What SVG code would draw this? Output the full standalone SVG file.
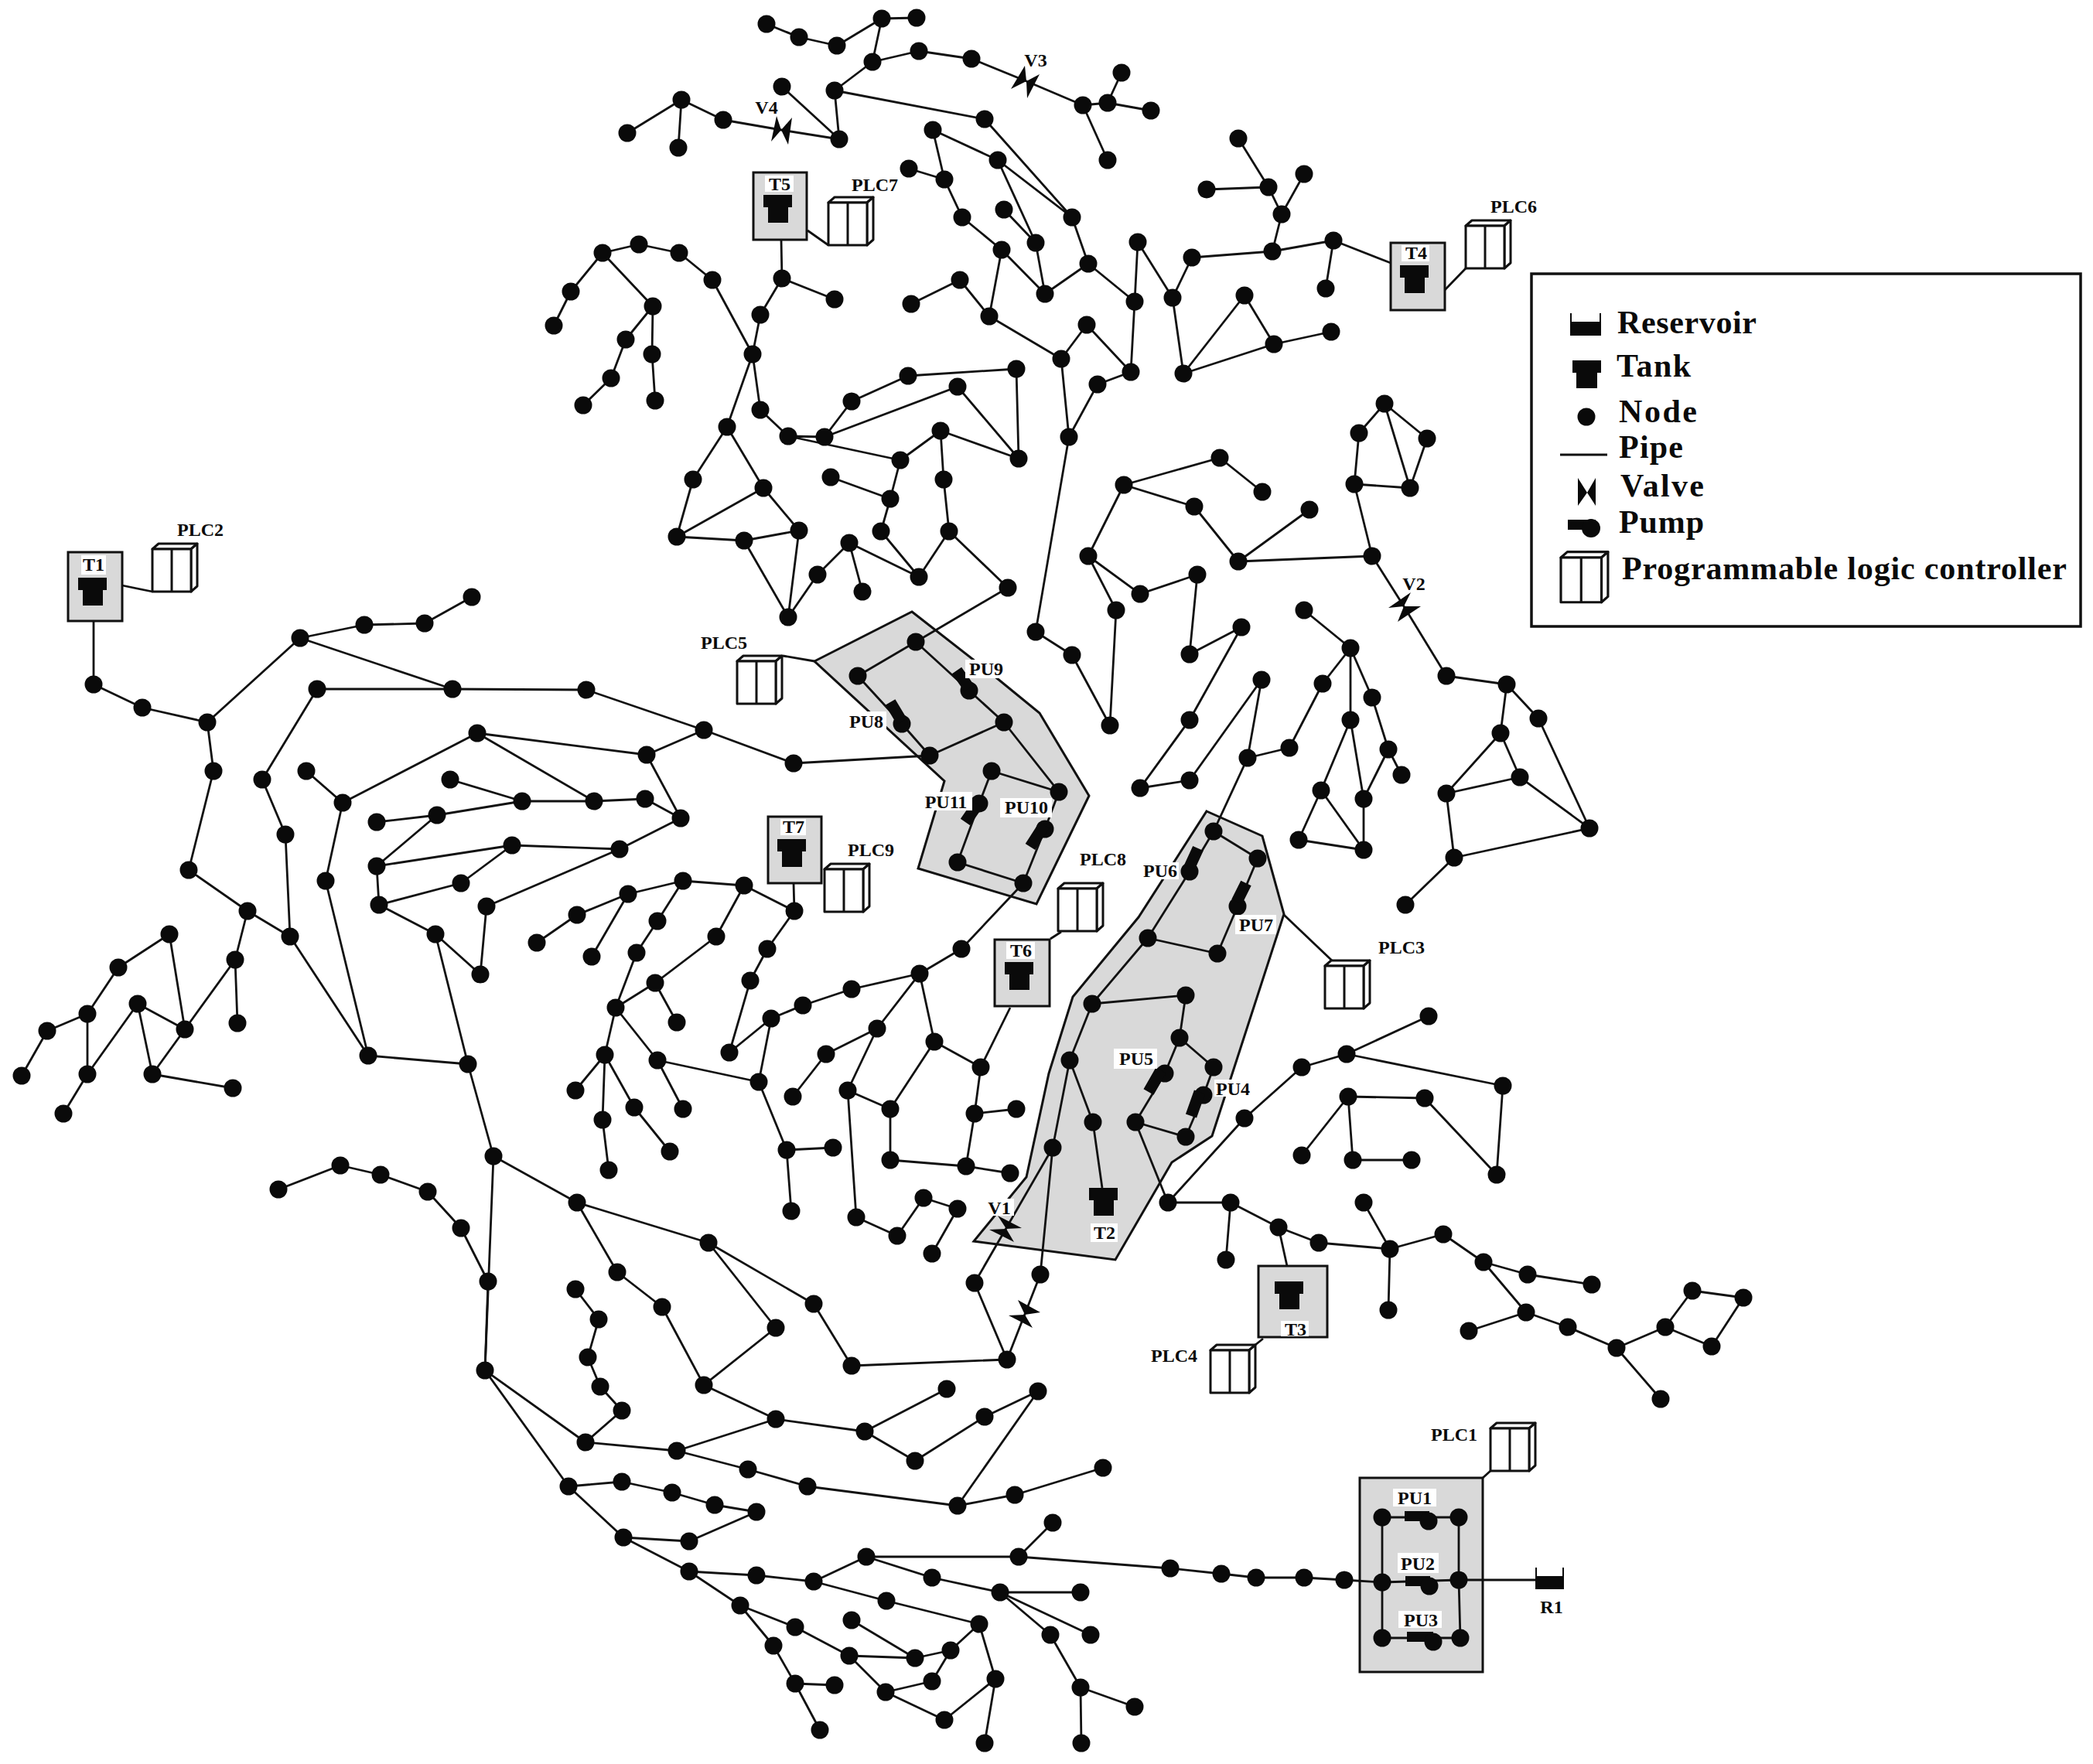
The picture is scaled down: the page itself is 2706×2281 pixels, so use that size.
<svg xmlns="http://www.w3.org/2000/svg" width="2706" height="2281" viewBox="0 0 2706 2281">
<style>
text{font-family:"Liberation Serif","Times New Roman",serif;font-weight:bold;fill:#0a0a0a;font-size:24px;text-anchor:middle}
.lg{font-size:42px;text-anchor:start}
.z{fill:#d9d9d9;stroke:#111;stroke-width:3;stroke-linejoin:miter}
.p{fill:none;stroke:#111;stroke-width:2.8;stroke-linejoin:round}
.nodes circle,.k{fill:#0a0a0a}
.w{fill:#fff}
.pl{fill:#fff;stroke:#111;stroke-width:3;stroke-linejoin:round}
.pump{fill:none;stroke:#0a0a0a;stroke-width:15}
</style>
<defs>
<g id="plc"><path class="pl" d="M0 0L8-7H58L50 0Z"/><path class="pl" d="M50 0L58-7V48L50 55Z"/><rect class="pl" width="50" height="55"/><path class="pl" d="M25 0V55"/></g>
<g id="tank"><rect class="k" x="-19" y="0" width="37" height="16"/><rect class="k" x="-13" y="16" width="26" height="20"/></g>
</defs>
<g id="zones">
<path id="zone-a" class="z" d="M1179 791L1284 873L1344 922L1408 1029L1340 1169L1187 1123L1221 1010L1053 855Z"/>
<path id="zone-b" class="z" d="M1560 1049L1632 1081L1660 1182L1567 1469L1515 1503L1442 1629L1259 1605L1327 1522L1356 1388L1387 1289L1472 1186Z"/>
<rect id="zone-c" class="z" x="1758" y="1911" width="159" height="251"/>
</g>
<g id="connectors">
<path class="p" d="M991 31L1033 48L1082 59L1140 24L1185 23M1140 24L1128 80M1079 117L1128 80L1188 66L1256 76L1327 105L1400 136L1432 133L1488 143M1432 133L1450 94M1400 136L1432 207M1079 117L1085 180L1011 112M1085 180L1010 168L935 155L881 129L811 172M881 129L877 191M1079 117L1273 154L1386 281M1206 168L1290 207L1386 281M1290 207L1339 314M1298 271L1339 314L1351 380M1206 168L1221 232L1244 281L1295 323L1351 380M1175 218L1221 232M1386 281L1407 341L1351 380M1407 341L1467 390M1471 313L1467 390L1462 481M1471 313L1516 385L1541 333L1645 325L1724 311L1798 340M1724 311L1714 373M1645 325L1657 277L1640 242L1560 245M1657 277L1686 225M1640 242L1601 179M1516 385L1530 483L1609 382L1647 445L1721 429M1530 483L1647 445M1295 323L1279 409M1178 393L1241 362L1279 409L1372 464L1405 420L1462 481L1419 497L1382 565M1372 464L1382 565L1339 817L1386 847L1435 938L1443 789L1407 719L1453 627L1577 592L1632 636M1453 627L1544 655L1601 726L1693 659M1601 726L1774 719M1407 719L1474 768L1548 743L1538 846L1605 811L1538 931L1474 1019L1538 1009L1631 879L1613 980L1667 967L1710 884L1746 838L1686 789M1746 838L1774 902L1795 969L1812 1002M1746 838L1746 931L1708 1022L1763 1099L1763 1033L1746 931M1795 969L1763 1033M1708 1022L1679 1086L1763 1099M1613 980L1569 1075"/>
<path class="p" d="M1790 522L1757 560L1751 626L1823 631L1845 567L1790 522L1823 631M1751 626L1774 719L1815 784L1870 874L1948 885L1989 929L2055 1071M1948 885L1940 948L1965 1005L2055 1071M1940 948L1870 1026L1965 1005M1870 1026L1880 1109L2055 1071M1880 1109L1817 1170"/>
<path class="p" d="M779 327L826 316L878 327L921 362L973 458M779 327L738 377L716 421M779 327L844 396L809 439L790 489L754 524M844 396L843 458L847 518M1010 310L1011 360L1079 387M1011 360L983 407L973 458L983 530L1019 564L1066 565L1101 519L1174 486L1314 477L1317 593M1019 564L1164 595L1216 557L1317 593M1066 565L1238 500L1317 593M1216 557L1220 620L1227 687L1188 746L1139 687L1151 645L1164 595M1151 645L1074 617M1098 702L1188 746M1098 702L1057 743L1019 798M1098 702L1115 765M973 458L940 552L896 620L875 694L987 631L940 552M987 631L1033 686L1019 798M875 694L962 699L1033 686M962 699L1019 798M1227 687L1303 760L1184 830"/>
<path class="p" d="M1184 830L1109 874L1166 936L1202 977L1298 934L1253 893L1184 830M1298 934L1369 1024L1282 997L1266 1039L1238 1115L1323 1142L1351 1072L1369 1024M1202 977L1026 987L910 944M1323 1142L1243 1227M1012 848L1053 855"/>
<path class="p" d="M121 803L121 885L184 915L268 934L388 825L471 808L549 806L610 772M268 934L276 997L244 1125L320 1178L375 1211L369 1079L339 1008L410 891L585 891L758 892L910 944M320 1178L304 1241L239 1331L219 1208L153 1251L113 1311L61 1333L28 1391M304 1241L307 1323M113 1311L113 1389L82 1440M113 1389L178 1298L239 1331L197 1389L178 1298M197 1389L301 1407M388 825L585 891M375 1211L476 1365L421 1139L443 1038L617 948L836 976L910 944M396 997L443 1038M476 1365L605 1376L563 1208L621 1260L629 1172L801 1098M563 1208L490 1170L596 1142L662 1093L801 1098L880 1058L836 976M617 948L768 1036L675 1036L582 1008M768 1036L834 1033L880 1058M675 1036L565 1054L487 1063M565 1054L487 1120L662 1093M487 1120L490 1170M605 1376L638 1495L627 1772"/>
<path class="p" d="M694 1219L746 1183L812 1156L883 1139L962 1145L1027 1178L1026 1142M812 1156L765 1237M883 1139L850 1191L823 1232L796 1303L847 1271L926 1211L962 1145M847 1271L875 1322M1027 1178L992 1227L970 1268L943 1361L997 1317L1038 1300L1101 1279L1189 1259L1243 1227M796 1303L782 1364M796 1303L850 1371L981 1399L997 1317M981 1399L1017 1487L1077 1484M1017 1487L1023 1566M782 1364L744 1410M782 1364L779 1448L787 1513M782 1364L820 1432L866 1489M850 1371L883 1434M1189 1259L1134 1330L1068 1363L1025 1418M1134 1330L1096 1410L1151 1434L1208 1347L1189 1259M1151 1434L1151 1500L1249 1508L1260 1440L1268 1380L1208 1347M1260 1440L1314 1434M1249 1508L1306 1517M1268 1380L1306 1303M1096 1410L1107 1574L1160 1598L1194 1549L1238 1563L1205 1621"/>
<path class="p" d="M360 1538L440 1507L492 1519L553 1541L596 1588L631 1657L627 1772L757 1865L875 1876L1003 1835L910 1791L856 1690L798 1645L746 1555L916 1607L1052 1686L1101 1766L1302 1758L1260 1659L1361 1484M638 1495L746 1555M916 1607L1003 1717L910 1791M1003 1835L1118 1851L1224 1796M1118 1851L1183 1889L1273 1832L1342 1799L1238 1947M875 1876L967 1900L1044 1922L1238 1947L1312 1933L1426 1898M757 1865L804 1824L776 1793L760 1755L774 1706L744 1667M627 1772L735 1922L804 1916L869 1930L924 1946L978 1955L891 1993L806 1988L735 1922M806 1988L891 2032L978 2037L1052 2045L1120 2013L1317 2013L1361 1969M1120 2013L1205 2040L1293 2059L1397 2059M1052 2045L1146 2070L1266 2100L1229 2134L1183 2144L1098 2141L1028 2104L957 2076L891 2032M957 2076L1000 2128L1028 2177L1079 2179M1028 2177L1060 2237M1098 2141L1145 2188L1205 2174L1229 2134M1101 2095L1183 2144M1266 2100L1287 2171L1221 2224L1145 2188M1287 2171L1273 2254M1293 2059L1410 2114M1293 2059L1358 2114L1397 2182L1467 2207M1397 2182L1398 2254M1302 1758L1345 1648L1361 1484"/>
<path class="p" d="M1317 2013L1513 2028L1579 2035L1624 2040L1686 2040L1738 2043L1787 2046L1886 2043L2000 2043M1787 1962L1787 2118L1888 2118L1886 2043L1886 1962L1787 1962"/>
<path class="p" d="M1569 1075L1538 1127L1484 1213L1412 1298L1383 1371L1361 1484M1569 1075L1626 1110L1600 1172L1574 1233L1484 1213M1412 1298L1533 1287L1525 1342L1569 1380L1556 1416L1533 1470L1468 1451L1506 1388L1525 1342M1383 1371L1413 1451L1425 1536M1468 1451L1510 1555L1591 1555L1653 1587L1705 1607L1797 1615L1866 1596L1918 1632L1975 1648L2058 1661M1591 1555L1585 1629M1653 1587L1664 1637M1763 1555L1797 1615L1795 1694M1918 1632L1973 1697L2027 1716L2090 1743L2153 1716L2188 1669L2254 1678L2213 1741L2153 1716M1973 1697L1899 1721M2090 1743L2147 1809M1510 1555L1609 1446L1683 1380L1741 1363L1847 1314M1741 1363L1943 1404L1935 1519L1842 1420L1743 1418L1683 1494M1743 1418L1749 1500L1825 1500"/>
<path class="p" d="M158 757L197 765M1044 298L1071 317M1867 376L1895 347M1358 1214L1372 1205M1660 1183L1722 1242M1633 1731L1623 1739M1917 1911L1927 1902"/>
</g>
<g id="nodes" class="nodes">
<g id="a1"><circle cx="991" cy="31" r="11.5"/></g><g id="a2"><circle cx="1033" cy="48" r="11.5"/></g><g id="a3"><circle cx="1082" cy="59" r="11.5"/></g><g id="a4"><circle cx="1140" cy="24" r="11.5"/></g><g id="a5"><circle cx="1185" cy="23" r="11.5"/></g><g id="a6"><circle cx="1128" cy="80" r="11.5"/></g><g id="a7"><circle cx="1188" cy="66" r="11.5"/></g><g id="a8"><circle cx="1256" cy="76" r="11.5"/></g><g id="a9"><circle cx="1400" cy="136" r="11.5"/></g><g id="a10"><circle cx="1432" cy="133" r="11.5"/></g><g id="a11"><circle cx="1450" cy="94" r="11.5"/></g><g id="a12"><circle cx="1488" cy="143" r="11.5"/></g><g id="a13"><circle cx="1432" cy="207" r="11.5"/></g><g id="a14"><circle cx="1079" cy="117" r="11.5"/></g><g id="a15"><circle cx="1085" cy="180" r="11.5"/></g><g id="a16"><circle cx="1011" cy="112" r="11.5"/></g><g id="a17"><circle cx="935" cy="155" r="11.5"/></g><g id="a18"><circle cx="881" cy="129" r="11.5"/></g><g id="a19"><circle cx="811" cy="172" r="11.5"/></g><g id="a20"><circle cx="877" cy="191" r="11.5"/></g>
<g id="b1"><circle cx="1273" cy="154" r="11.5"/></g><g id="b2"><circle cx="1206" cy="168" r="11.5"/></g><g id="b3"><circle cx="1290" cy="207" r="11.5"/></g><g id="b4"><circle cx="1175" cy="218" r="11.5"/></g><g id="b5"><circle cx="1221" cy="232" r="11.5"/></g><g id="b6"><circle cx="1244" cy="281" r="11.5"/></g><g id="b7"><circle cx="1298" cy="271" r="11.5"/></g><g id="b8"><circle cx="1386" cy="281" r="11.5"/></g><g id="b9"><circle cx="1339" cy="314" r="11.5"/></g><g id="b10"><circle cx="1295" cy="323" r="11.5"/></g><g id="b11"><circle cx="1407" cy="341" r="11.5"/></g><g id="b12"><circle cx="1471" cy="313" r="11.5"/></g><g id="b13"><circle cx="1541" cy="333" r="11.5"/></g><g id="b14"><circle cx="1645" cy="325" r="11.5"/></g><g id="b15"><circle cx="1724" cy="311" r="11.5"/></g><g id="b16"><circle cx="1714" cy="373" r="11.5"/></g><g id="b17"><circle cx="1657" cy="277" r="11.5"/></g><g id="b18"><circle cx="1640" cy="242" r="11.5"/></g><g id="b19"><circle cx="1560" cy="245" r="11.5"/></g><g id="b20"><circle cx="1686" cy="225" r="11.5"/></g><g id="b21"><circle cx="1601" cy="179" r="11.5"/></g><g id="b22"><circle cx="1241" cy="362" r="11.5"/></g><g id="b23"><circle cx="1178" cy="393" r="11.5"/></g><g id="b24"><circle cx="1279" cy="409" r="11.5"/></g><g id="b25"><circle cx="1351" cy="380" r="11.5"/></g><g id="b26"><circle cx="1467" cy="390" r="11.5"/></g><g id="b27"><circle cx="1516" cy="385" r="11.5"/></g><g id="b28"><circle cx="1609" cy="382" r="11.5"/></g><g id="b29"><circle cx="1647" cy="445" r="11.5"/></g><g id="b30"><circle cx="1721" cy="429" r="11.5"/></g><g id="b31"><circle cx="1530" cy="483" r="11.5"/></g><g id="b32"><circle cx="1405" cy="420" r="11.5"/></g><g id="b33"><circle cx="1372" cy="464" r="11.5"/></g><g id="b34"><circle cx="1462" cy="481" r="11.5"/></g><g id="b35"><circle cx="1419" cy="497" r="11.5"/></g><g id="b36"><circle cx="1382" cy="565" r="11.5"/></g>
<g id="c1"><circle cx="779" cy="327" r="11.5"/></g><g id="c2"><circle cx="826" cy="316" r="11.5"/></g><g id="c3"><circle cx="878" cy="327" r="11.5"/></g><g id="c4"><circle cx="921" cy="362" r="11.5"/></g><g id="c5"><circle cx="738" cy="377" r="11.5"/></g><g id="c6"><circle cx="716" cy="421" r="11.5"/></g><g id="c7"><circle cx="844" cy="396" r="11.5"/></g><g id="c8"><circle cx="809" cy="439" r="11.5"/></g><g id="c9"><circle cx="843" cy="458" r="11.5"/></g><g id="c10"><circle cx="790" cy="489" r="11.5"/></g><g id="c11"><circle cx="754" cy="524" r="11.5"/></g><g id="c12"><circle cx="847" cy="518" r="11.5"/></g><g id="c13"><circle cx="1011" cy="360" r="11.5"/></g><g id="c14"><circle cx="1079" cy="387" r="11.5"/></g><g id="c15"><circle cx="983" cy="407" r="11.5"/></g><g id="c16"><circle cx="973" cy="458" r="11.5"/></g><g id="c17"><circle cx="983" cy="530" r="11.5"/></g><g id="c18"><circle cx="940" cy="552" r="11.5"/></g><g id="c19"><circle cx="1019" cy="564" r="11.5"/></g><g id="c20"><circle cx="1066" cy="565" r="11.5"/></g><g id="c21"><circle cx="1101" cy="519" r="11.5"/></g><g id="c22"><circle cx="1174" cy="486" r="11.5"/></g><g id="c23"><circle cx="1314" cy="477" r="11.5"/></g><g id="c24"><circle cx="1238" cy="500" r="11.5"/></g><g id="c25"><circle cx="1317" cy="593" r="11.5"/></g><g id="c26"><circle cx="1216" cy="557" r="11.5"/></g><g id="c27"><circle cx="1164" cy="595" r="11.5"/></g><g id="c28"><circle cx="1220" cy="620" r="11.5"/></g><g id="c29"><circle cx="1227" cy="687" r="11.5"/></g><g id="c30"><circle cx="1074" cy="617" r="11.5"/></g><g id="c31"><circle cx="1151" cy="645" r="11.5"/></g><g id="c32"><circle cx="1139" cy="687" r="11.5"/></g><g id="c33"><circle cx="896" cy="620" r="11.5"/></g><g id="c34"><circle cx="987" cy="631" r="11.5"/></g><g id="c35"><circle cx="875" cy="694" r="11.5"/></g><g id="c36"><circle cx="962" cy="699" r="11.5"/></g><g id="c37"><circle cx="1033" cy="686" r="11.5"/></g><g id="c38"><circle cx="1057" cy="743" r="11.5"/></g><g id="c39"><circle cx="1098" cy="702" r="11.5"/></g><g id="c40"><circle cx="1188" cy="746" r="11.5"/></g><g id="c41"><circle cx="1115" cy="765" r="11.5"/></g><g id="c42"><circle cx="1303" cy="760" r="11.5"/></g><g id="c43"><circle cx="1019" cy="798" r="11.5"/></g>
<g id="d1"><circle cx="1339" cy="817" r="11.5"/></g><g id="d2"><circle cx="1386" cy="847" r="11.5"/></g><g id="d3"><circle cx="1435" cy="938" r="11.5"/></g><g id="d4"><circle cx="1443" cy="789" r="11.5"/></g><g id="d5"><circle cx="1407" cy="719" r="11.5"/></g><g id="d6"><circle cx="1453" cy="627" r="11.5"/></g><g id="d7"><circle cx="1577" cy="592" r="11.5"/></g><g id="d8"><circle cx="1632" cy="636" r="11.5"/></g><g id="d9"><circle cx="1544" cy="655" r="11.5"/></g><g id="d10"><circle cx="1601" cy="726" r="11.5"/></g><g id="d11"><circle cx="1693" cy="659" r="11.5"/></g><g id="d12"><circle cx="1774" cy="719" r="11.5"/></g><g id="d13"><circle cx="1474" cy="768" r="11.5"/></g><g id="d14"><circle cx="1548" cy="743" r="11.5"/></g><g id="d15"><circle cx="1538" cy="846" r="11.5"/></g><g id="d16"><circle cx="1605" cy="811" r="11.5"/></g><g id="d17"><circle cx="1538" cy="931" r="11.5"/></g><g id="d18"><circle cx="1474" cy="1019" r="11.5"/></g><g id="d19"><circle cx="1538" cy="1009" r="11.5"/></g><g id="d20"><circle cx="1631" cy="879" r="11.5"/></g><g id="d21"><circle cx="1613" cy="980" r="11.5"/></g><g id="d22"><circle cx="1667" cy="967" r="11.5"/></g><g id="d23"><circle cx="1710" cy="884" r="11.5"/></g><g id="d24"><circle cx="1746" cy="838" r="11.5"/></g><g id="d25"><circle cx="1686" cy="789" r="11.5"/></g><g id="d26"><circle cx="1774" cy="902" r="11.5"/></g><g id="d27"><circle cx="1746" cy="931" r="11.5"/></g><g id="d28"><circle cx="1795" cy="969" r="11.5"/></g><g id="d29"><circle cx="1812" cy="1002" r="11.5"/></g><g id="d30"><circle cx="1708" cy="1022" r="11.5"/></g><g id="d31"><circle cx="1763" cy="1033" r="11.5"/></g><g id="d32"><circle cx="1763" cy="1099" r="11.5"/></g><g id="d33"><circle cx="1679" cy="1086" r="11.5"/></g>
<g id="e1"><circle cx="1790" cy="522" r="11.5"/></g><g id="e2"><circle cx="1757" cy="560" r="11.5"/></g><g id="e3"><circle cx="1845" cy="567" r="11.5"/></g><g id="e4"><circle cx="1751" cy="626" r="11.5"/></g><g id="e5"><circle cx="1823" cy="631" r="11.5"/></g><g id="e6"><circle cx="1870" cy="874" r="11.5"/></g><g id="e7"><circle cx="1948" cy="885" r="11.5"/></g><g id="e8"><circle cx="1989" cy="929" r="11.5"/></g><g id="e9"><circle cx="1940" cy="948" r="11.5"/></g><g id="e10"><circle cx="1965" cy="1005" r="11.5"/></g><g id="e11"><circle cx="1870" cy="1026" r="11.5"/></g><g id="e12"><circle cx="2055" cy="1071" r="11.5"/></g><g id="e13"><circle cx="1880" cy="1109" r="11.5"/></g><g id="e14"><circle cx="1817" cy="1170" r="11.5"/></g>
<g id="g1"><circle cx="1184" cy="830" r="11.5"/></g><g id="g2"><circle cx="1109" cy="874" r="11.5"/></g><g id="g3"><circle cx="1253" cy="893" r="11.5"/></g><g id="g4"><circle cx="1166" cy="936" r="11.5"/></g><g id="g5"><circle cx="1298" cy="934" r="11.5"/></g><g id="g6"><circle cx="1202" cy="977" r="11.5"/></g><g id="g7"><circle cx="1282" cy="997" r="11.5"/></g><g id="g8"><circle cx="1369" cy="1024" r="11.5"/></g><g id="g9"><circle cx="1266" cy="1039" r="11.5"/></g><g id="g10"><circle cx="1351" cy="1072" r="11.5"/></g><g id="g11"><circle cx="1238" cy="1115" r="11.5"/></g><g id="g12"><circle cx="1323" cy="1142" r="11.5"/></g><g id="g13"><circle cx="1026" cy="987" r="11.5"/></g><g id="g14"><circle cx="910" cy="944" r="11.5"/></g>
<g id="k1"><circle cx="121" cy="885" r="11.5"/></g><g id="k2"><circle cx="184" cy="915" r="11.5"/></g><g id="k3"><circle cx="268" cy="934" r="11.5"/></g><g id="k4"><circle cx="276" cy="997" r="11.5"/></g><g id="k5"><circle cx="244" cy="1125" r="11.5"/></g><g id="k6"><circle cx="320" cy="1178" r="11.5"/></g><g id="k7"><circle cx="375" cy="1211" r="11.5"/></g><g id="k8"><circle cx="304" cy="1241" r="11.5"/></g><g id="k9"><circle cx="307" cy="1323" r="11.5"/></g><g id="k10"><circle cx="239" cy="1331" r="11.5"/></g><g id="k11"><circle cx="219" cy="1208" r="11.5"/></g><g id="k12"><circle cx="153" cy="1251" r="11.5"/></g><g id="k13"><circle cx="113" cy="1311" r="11.5"/></g><g id="k14"><circle cx="61" cy="1333" r="11.5"/></g><g id="k15"><circle cx="28" cy="1391" r="11.5"/></g><g id="k16"><circle cx="113" cy="1389" r="11.5"/></g><g id="k17"><circle cx="82" cy="1440" r="11.5"/></g><g id="k18"><circle cx="178" cy="1298" r="11.5"/></g><g id="k19"><circle cx="197" cy="1389" r="11.5"/></g><g id="k20"><circle cx="301" cy="1407" r="11.5"/></g><g id="k21"><circle cx="476" cy="1365" r="11.5"/></g><g id="k22"><circle cx="605" cy="1376" r="11.5"/></g><g id="k23"><circle cx="388" cy="825" r="11.5"/></g><g id="k24"><circle cx="471" cy="808" r="11.5"/></g><g id="k25"><circle cx="549" cy="806" r="11.5"/></g><g id="k26"><circle cx="610" cy="772" r="11.5"/></g><g id="k27"><circle cx="410" cy="891" r="11.5"/></g><g id="k28"><circle cx="585" cy="891" r="11.5"/></g><g id="k29"><circle cx="758" cy="892" r="11.5"/></g><g id="k31"><circle cx="617" cy="948" r="11.5"/></g><g id="k32"><circle cx="836" cy="976" r="11.5"/></g><g id="k33"><circle cx="339" cy="1008" r="11.5"/></g><g id="k34"><circle cx="369" cy="1079" r="11.5"/></g><g id="k35"><circle cx="396" cy="997" r="11.5"/></g><g id="k36"><circle cx="443" cy="1038" r="11.5"/></g><g id="k37"><circle cx="421" cy="1139" r="11.5"/></g><g id="k38"><circle cx="582" cy="1008" r="11.5"/></g><g id="k39"><circle cx="675" cy="1036" r="11.5"/></g><g id="k40"><circle cx="768" cy="1036" r="11.5"/></g><g id="k41"><circle cx="834" cy="1033" r="11.5"/></g><g id="k43"><circle cx="565" cy="1054" r="11.5"/></g><g id="k44"><circle cx="487" cy="1063" r="11.5"/></g><g id="k47"><circle cx="487" cy="1120" r="11.5"/></g><g id="k48"><circle cx="596" cy="1142" r="11.5"/></g><g id="k49"><circle cx="490" cy="1170" r="11.5"/></g><g id="k50"><circle cx="629" cy="1172" r="11.5"/></g><g id="k51"><circle cx="563" cy="1208" r="11.5"/></g><g id="k52"><circle cx="621" cy="1260" r="11.5"/></g>
<g id="j1"><circle cx="662" cy="1093" r="11.5"/></g><g id="j2"><circle cx="801" cy="1098" r="11.5"/></g><g id="j3"><circle cx="880" cy="1058" r="11.5"/></g><g id="j4"><circle cx="883" cy="1139" r="11.5"/></g><g id="j5"><circle cx="812" cy="1156" r="11.5"/></g><g id="j6"><circle cx="962" cy="1145" r="11.5"/></g><g id="j7"><circle cx="1027" cy="1178" r="11.5"/></g><g id="j8"><circle cx="746" cy="1183" r="11.5"/></g><g id="j9"><circle cx="694" cy="1219" r="11.5"/></g><g id="j10"><circle cx="765" cy="1237" r="11.5"/></g><g id="j11"><circle cx="850" cy="1191" r="11.5"/></g><g id="j12"><circle cx="823" cy="1232" r="11.5"/></g><g id="j13"><circle cx="926" cy="1211" r="11.5"/></g><g id="j14"><circle cx="992" cy="1227" r="11.5"/></g><g id="j15"><circle cx="970" cy="1268" r="11.5"/></g><g id="j16"><circle cx="847" cy="1271" r="11.5"/></g><g id="j17"><circle cx="796" cy="1303" r="11.5"/></g><g id="j18"><circle cx="875" cy="1322" r="11.5"/></g><g id="j19"><circle cx="782" cy="1364" r="11.5"/></g><g id="j20"><circle cx="850" cy="1371" r="11.5"/></g><g id="j21"><circle cx="943" cy="1361" r="11.5"/></g><g id="j22"><circle cx="997" cy="1317" r="11.5"/></g><g id="j23"><circle cx="1038" cy="1300" r="11.5"/></g><g id="j24"><circle cx="1101" cy="1279" r="11.5"/></g><g id="j25"><circle cx="1189" cy="1259" r="11.5"/></g><g id="j26"><circle cx="1243" cy="1227" r="11.5"/></g><g id="j27"><circle cx="1134" cy="1330" r="11.5"/></g><g id="j28"><circle cx="1068" cy="1363" r="11.5"/></g><g id="j29"><circle cx="1025" cy="1418" r="11.5"/></g><g id="j30"><circle cx="1096" cy="1410" r="11.5"/></g><g id="j31"><circle cx="1151" cy="1434" r="11.5"/></g><g id="j32"><circle cx="1208" cy="1347" r="11.5"/></g><g id="j33"><circle cx="1268" cy="1380" r="11.5"/></g><g id="j34"><circle cx="1260" cy="1440" r="11.5"/></g><g id="j35"><circle cx="1314" cy="1434" r="11.5"/></g><g id="j36"><circle cx="1151" cy="1500" r="11.5"/></g><g id="j37"><circle cx="1249" cy="1508" r="11.5"/></g><g id="j38"><circle cx="1306" cy="1517" r="11.5"/></g><g id="j39"><circle cx="981" cy="1399" r="11.5"/></g><g id="j40"><circle cx="744" cy="1410" r="11.5"/></g><g id="j41"><circle cx="820" cy="1432" r="11.5"/></g><g id="j42"><circle cx="883" cy="1434" r="11.5"/></g><g id="j43"><circle cx="779" cy="1448" r="11.5"/></g><g id="j44"><circle cx="866" cy="1489" r="11.5"/></g><g id="j45"><circle cx="787" cy="1513" r="11.5"/></g><g id="j46"><circle cx="1017" cy="1487" r="11.5"/></g><g id="j47"><circle cx="1077" cy="1484" r="11.5"/></g><g id="j48"><circle cx="1023" cy="1566" r="11.5"/></g><g id="j49"><circle cx="1107" cy="1574" r="11.5"/></g><g id="j50"><circle cx="1160" cy="1598" r="11.5"/></g><g id="j51"><circle cx="1194" cy="1549" r="11.5"/></g><g id="j52"><circle cx="1238" cy="1563" r="11.5"/></g><g id="j53"><circle cx="1205" cy="1621" r="11.5"/></g><g id="j54"><circle cx="746" cy="1555" r="11.5"/></g><g id="j55"><circle cx="916" cy="1607" r="11.5"/></g><g id="j56"><circle cx="798" cy="1645" r="11.5"/></g>
<g id="m1"><circle cx="638" cy="1495" r="11.5"/></g><g id="m4"><circle cx="856" cy="1690" r="11.5"/></g><g id="m5"><circle cx="1052" cy="1686" r="11.5"/></g><g id="m6"><circle cx="1003" cy="1717" r="11.5"/></g><g id="m7"><circle cx="1101" cy="1766" r="11.5"/></g><g id="m8"><circle cx="1302" cy="1758" r="11.5"/></g><g id="m9"><circle cx="1260" cy="1659" r="11.5"/></g><g id="m11"><circle cx="1345" cy="1648" r="11.5"/></g><g id="m12"><circle cx="910" cy="1791" r="11.5"/></g><g id="m13"><circle cx="1003" cy="1835" r="11.5"/></g><g id="m14"><circle cx="1118" cy="1851" r="11.5"/></g><g id="m15"><circle cx="1224" cy="1796" r="11.5"/></g><g id="m16"><circle cx="1183" cy="1889" r="11.5"/></g><g id="m17"><circle cx="1273" cy="1832" r="11.5"/></g><g id="m18"><circle cx="1342" cy="1799" r="11.5"/></g><g id="m19"><circle cx="875" cy="1876" r="11.5"/></g><g id="m20"><circle cx="757" cy="1865" r="11.5"/></g><g id="m21"><circle cx="804" cy="1824" r="11.5"/></g><g id="m22"><circle cx="776" cy="1793" r="11.5"/></g><g id="m23"><circle cx="760" cy="1755" r="11.5"/></g><g id="m24"><circle cx="774" cy="1706" r="11.5"/></g><g id="m25"><circle cx="744" cy="1667" r="11.5"/></g><g id="m26"><circle cx="967" cy="1900" r="11.5"/></g><g id="m27"><circle cx="1044" cy="1922" r="11.5"/></g><g id="m28"><circle cx="1238" cy="1947" r="11.5"/></g><g id="m29"><circle cx="1312" cy="1933" r="11.5"/></g><g id="m30"><circle cx="1426" cy="1898" r="11.5"/></g><g id="m31"><circle cx="735" cy="1922" r="11.5"/></g><g id="m32"><circle cx="804" cy="1916" r="11.5"/></g><g id="m33"><circle cx="869" cy="1930" r="11.5"/></g><g id="m34"><circle cx="924" cy="1946" r="11.5"/></g><g id="m35"><circle cx="978" cy="1955" r="11.5"/></g><g id="m36"><circle cx="891" cy="1993" r="11.5"/></g><g id="m37"><circle cx="806" cy="1988" r="11.5"/></g><g id="m38"><circle cx="891" cy="2032" r="11.5"/></g><g id="m39"><circle cx="978" cy="2037" r="11.5"/></g><g id="m40"><circle cx="1052" cy="2045" r="11.5"/></g><g id="m41"><circle cx="1120" cy="2013" r="11.5"/></g><g id="m42"><circle cx="1317" cy="2013" r="11.5"/></g><g id="m43"><circle cx="1361" cy="1969" r="11.5"/></g><g id="m44"><circle cx="1205" cy="2040" r="11.5"/></g><g id="m45"><circle cx="1293" cy="2059" r="11.5"/></g><g id="m46"><circle cx="1397" cy="2059" r="11.5"/></g><g id="m47"><circle cx="1146" cy="2070" r="11.5"/></g><g id="m48"><circle cx="1266" cy="2100" r="11.5"/></g><g id="m49"><circle cx="957" cy="2076" r="11.5"/></g><g id="m50"><circle cx="1028" cy="2104" r="11.5"/></g><g id="m51"><circle cx="1000" cy="2128" r="11.5"/></g><g id="m52"><circle cx="1098" cy="2141" r="11.5"/></g><g id="m53"><circle cx="1183" cy="2144" r="11.5"/></g><g id="m54"><circle cx="1101" cy="2095" r="11.5"/></g><g id="m55"><circle cx="1229" cy="2134" r="11.5"/></g><g id="m56"><circle cx="1205" cy="2174" r="11.5"/></g><g id="m57"><circle cx="1145" cy="2188" r="11.5"/></g><g id="m58"><circle cx="1287" cy="2171" r="11.5"/></g><g id="m59"><circle cx="1221" cy="2224" r="11.5"/></g><g id="m60"><circle cx="1273" cy="2254" r="11.5"/></g><g id="m61"><circle cx="1028" cy="2177" r="11.5"/></g><g id="m62"><circle cx="1079" cy="2179" r="11.5"/></g><g id="m63"><circle cx="1060" cy="2237" r="11.5"/></g><g id="m64"><circle cx="1358" cy="2114" r="11.5"/></g><g id="m65"><circle cx="1410" cy="2114" r="11.5"/></g><g id="m66"><circle cx="1397" cy="2182" r="11.5"/></g><g id="m67"><circle cx="1467" cy="2207" r="11.5"/></g><g id="m68"><circle cx="1398" cy="2254" r="11.5"/></g>
<g id="n1"><circle cx="360" cy="1538" r="11.5"/></g><g id="n2"><circle cx="440" cy="1507" r="11.5"/></g><g id="n3"><circle cx="492" cy="1519" r="11.5"/></g><g id="n4"><circle cx="553" cy="1541" r="11.5"/></g><g id="n5"><circle cx="596" cy="1588" r="11.5"/></g><g id="n6"><circle cx="631" cy="1657" r="11.5"/></g><g id="n7"><circle cx="627" cy="1772" r="11.5"/></g>
<g id="s1"><circle cx="1513" cy="2028" r="11.5"/></g><g id="s2"><circle cx="1579" cy="2035" r="11.5"/></g><g id="s3"><circle cx="1624" cy="2040" r="11.5"/></g><g id="s4"><circle cx="1686" cy="2040" r="11.5"/></g><g id="s5"><circle cx="1738" cy="2043" r="11.5"/></g><g id="s6"><circle cx="1787" cy="1962" r="11.5"/></g><g id="s7"><circle cx="1886" cy="1962" r="11.5"/></g><g id="s8"><circle cx="1787" cy="2046" r="11.5"/></g><g id="s9"><circle cx="1886" cy="2043" r="11.5"/></g><g id="s10"><circle cx="1787" cy="2118" r="11.5"/></g><g id="s11"><circle cx="1888" cy="2118" r="11.5"/></g>
<g id="f1"><circle cx="1569" cy="1075" r="11.5"/></g><g id="f2"><circle cx="1626" cy="1110" r="11.5"/></g><g id="f3"><circle cx="1538" cy="1127" r="11.5"/></g><g id="f4"><circle cx="1600" cy="1172" r="11.5"/></g><g id="f5"><circle cx="1484" cy="1213" r="11.5"/></g><g id="f6"><circle cx="1574" cy="1233" r="11.5"/></g><g id="f7"><circle cx="1412" cy="1298" r="11.5"/></g><g id="f8"><circle cx="1533" cy="1287" r="11.5"/></g><g id="f9"><circle cx="1525" cy="1342" r="11.5"/></g><g id="f10"><circle cx="1569" cy="1380" r="11.5"/></g><g id="f11"><circle cx="1506" cy="1388" r="11.5"/></g><g id="f12"><circle cx="1556" cy="1416" r="11.5"/></g><g id="f13"><circle cx="1383" cy="1371" r="11.5"/></g><g id="f14"><circle cx="1413" cy="1451" r="11.5"/></g><g id="f15"><circle cx="1468" cy="1451" r="11.5"/></g><g id="f16"><circle cx="1533" cy="1470" r="11.5"/></g><g id="f17"><circle cx="1361" cy="1484" r="11.5"/></g>
<g id="p1"><circle cx="1510" cy="1555" r="11.5"/></g><g id="p2"><circle cx="1591" cy="1555" r="11.5"/></g><g id="p3"><circle cx="1653" cy="1587" r="11.5"/></g><g id="p4"><circle cx="1705" cy="1607" r="11.5"/></g><g id="p5"><circle cx="1585" cy="1629" r="11.5"/></g><g id="p6"><circle cx="1797" cy="1615" r="11.5"/></g><g id="p7"><circle cx="1763" cy="1555" r="11.5"/></g><g id="p8"><circle cx="1866" cy="1596" r="11.5"/></g><g id="p9"><circle cx="1795" cy="1694" r="11.5"/></g><g id="p10"><circle cx="1918" cy="1632" r="11.5"/></g><g id="p11"><circle cx="1975" cy="1648" r="11.5"/></g><g id="p12"><circle cx="2058" cy="1661" r="11.5"/></g><g id="p13"><circle cx="1973" cy="1697" r="11.5"/></g><g id="p14"><circle cx="1899" cy="1721" r="11.5"/></g><g id="p15"><circle cx="2027" cy="1716" r="11.5"/></g><g id="p16"><circle cx="2090" cy="1743" r="11.5"/></g><g id="p17"><circle cx="2153" cy="1716" r="11.5"/></g><g id="p18"><circle cx="2188" cy="1669" r="11.5"/></g><g id="p19"><circle cx="2254" cy="1678" r="11.5"/></g><g id="p20"><circle cx="2213" cy="1741" r="11.5"/></g><g id="p21"><circle cx="2147" cy="1809" r="11.5"/></g>
<g id="q1"><circle cx="1609" cy="1446" r="11.5"/></g><g id="q2"><circle cx="1683" cy="1380" r="11.5"/></g><g id="q3"><circle cx="1741" cy="1363" r="11.5"/></g><g id="q4"><circle cx="1847" cy="1314" r="11.5"/></g><g id="q5"><circle cx="1943" cy="1404" r="11.5"/></g><g id="q6"><circle cx="1935" cy="1519" r="11.5"/></g><g id="q7"><circle cx="1743" cy="1418" r="11.5"/></g><g id="q8"><circle cx="1842" cy="1420" r="11.5"/></g><g id="q9"><circle cx="1683" cy="1494" r="11.5"/></g><g id="q10"><circle cx="1749" cy="1500" r="11.5"/></g><g id="q11"><circle cx="1825" cy="1500" r="11.5"/></g>
</g>
<g id="pumps">
<g id="PU1p"><rect class="k" x="1816" y="1954" width="32" height="13"/><circle class="k" cx="1847" cy="1967" r="11.5"/></g>
<g id="PU2p"><rect class="k" x="1817" y="2038" width="32" height="13"/><circle class="k" cx="1848" cy="2051" r="11.5"/></g>
<g id="PU3p"><rect class="k" x="1819" y="2110" width="34" height="13"/><circle class="k" cx="1853" cy="2123" r="11.5"/></g>
<path class="pump" d="M1237 867L1253 890M1151 908L1166 933M1248 1063L1264 1040M1332 1095L1350 1067M1549 1097L1538 1121M1611 1142L1599 1166M1485 1412L1501 1384M1540 1443L1551 1412"/>
</g>
<g id="valves" class="k">
<path id="V1" d="M1301 1589L1290 1572L1321 1588ZM1301 1589L1279 1590L1311 1606Z"/>
<path id="V2" d="M1815 784L1824 766L1795 786ZM1815 784L1807 804L1837 784Z"/>
<path id="V3" d="M1327 105L1325 85L1307 115ZM1327 105L1344 96L1328 127Z"/>
<path id="V4" d="M1010 168L1004 150L997 183ZM1010 168L1024 152L1019 187Z"/>
<path id="V5" d="M1325 1700L1316 1681L1345 1697ZM1325 1700L1304 1701L1335 1717Z"/>
</g>
<g id="T1"><rect class="z" x="88" y="714" width="70" height="89"/><rect class="w" x="105" y="718" width="32" height="25"/><use href="#tank" x="120" y="747"/><text x="121" y="738">T1</text></g>
<g id="T2"><use href="#tank" x="1427" y="1536"/><rect class="w" x="1410" y="1582" width="35" height="24"/><text x="1428" y="1602">T2</text></g>
<g id="T3"><rect class="z" x="1627" y="1637" width="89" height="92"/><rect class="w" x="1656" y="1708" width="36" height="20"/><use href="#tank" x="1667" y="1657"/><text x="1675" y="1727">T3</text></g>
<g id="T4"><rect class="z" x="1798" y="314" width="70" height="87"/><rect class="w" x="1812" y="317" width="36" height="21"/><use href="#tank" x="1829" y="343"/><text x="1831" y="335">T4</text></g>
<g id="T5"><rect class="z" x="974" y="223" width="69" height="87"/><rect class="w" x="989" y="227" width="37" height="21"/><use href="#tank" x="1006" y="252"/><text x="1008" y="246">T5</text></g>
<g id="T6"><rect class="z" x="1286" y="1215" width="71" height="86"/><rect class="w" x="1301" y="1218" width="37" height="22"/><use href="#tank" x="1318" y="1244"/><text x="1320" y="1237">T6</text></g>
<g id="T7"><rect class="z" x="993" y="1056" width="69" height="86"/><rect class="w" x="1009" y="1059" width="33" height="21"/><use href="#tank" x="1024" y="1085"/><text x="1026" y="1077">T7</text></g>
<g id="R1"><path class="k" d="M1985 2027H1987V2038H2020V2027H2022V2055H1985Z"/><text x="2006" y="2086">R1</text></g>
<g id="PLC1"><use href="#plc" x="1927" y="1847"/><text x="1880" y="1863">PLC1</text></g>
<g id="PLC2"><use href="#plc" x="197" y="710"/><text x="259" y="693">PLC2</text></g>
<g id="PLC3"><use href="#plc" x="1713" y="1249"/><text x="1812" y="1233">PLC3</text></g>
<g id="PLC4"><use href="#plc" x="1565" y="1746"/><text x="1518" y="1761">PLC4</text></g>
<g id="PLC5"><use href="#plc" x="953" y="855"/><text x="936" y="839">PLC5</text></g>
<g id="PLC6"><use href="#plc" x="1895" y="292"/><text x="1957" y="275">PLC6</text></g>
<g id="PLC7"><use href="#plc" x="1071" y="262"/><text x="1131" y="247">PLC7</text></g>
<g id="PLC8"><use href="#plc" x="1368" y="1149"/><text x="1426" y="1119">PLC8</text></g>
<g id="PLC9"><use href="#plc" x="1066" y="1124"/><text x="1126" y="1107">PLC9</text></g>
<g id="labels">
<rect class="w" x="1801" y="1925" width="56" height="23"/><text x="1829" y="1945">PU1</text>
<rect class="w" x="1807" y="2008" width="53" height="26"/><text x="1833" y="2030">PU2</text>
<rect class="w" x="1808" y="2083" width="56" height="22"/><text x="1837" y="2103">PU3</text>
<rect class="w" x="1570" y="1396" width="47" height="22"/><text x="1594" y="1416">PU4</text>
<rect class="w" x="1440" y="1356" width="56" height="26"/><text x="1469" y="1377">PU5</text>
<rect class="w" x="1476" y="1115" width="48" height="22"/><text x="1500" y="1134">PU6</text>
<rect class="w" x="1597" y="1183" width="53" height="25"/><text x="1624" y="1204">PU7</text>
<rect class="w" x="1094" y="920" width="52" height="23"/><text x="1120" y="941">PU8</text>
<rect class="w" x="1248" y="853" width="50" height="24"/><text x="1275" y="873">PU9</text>
<rect class="w" x="1293" y="1032" width="67" height="25"/><text x="1327" y="1052">PU10</text>
<rect class="w" x="1194" y="1024" width="63" height="24"/><text x="1223" y="1045">PU11</text>
<rect class="w" x="1277" y="1550" width="34" height="22"/><text x="1292" y="1570">V1</text>
<text x="1828" y="763">V2</text><text x="1339" y="86">V3</text><text x="991" y="147">V4</text>
</g>
<g id="legend">
<rect x="1980" y="354" width="710" height="456" fill="#fff" stroke="#111" stroke-width="3.5"/>
<path class="k" d="M2030 405H2032V416H2068V405H2070V434H2030Z"/>
<rect class="k" x="2033" y="466" width="37" height="16"/><rect class="k" x="2038" y="482" width="27" height="20"/>
<circle class="k" cx="2051" cy="539" r="11.5"/>
<path class="p" d="M2017 588H2078"/>
<path class="k" d="M2040 618L2052 637L2040 654ZM2063 618L2052 637L2063 654Z"/>
<rect class="k" x="2027" y="672" width="36" height="13"/><circle class="k" cx="2057" cy="683" r="12"/>
<use href="#plc" transform="translate(2018 721) scale(1.05)"/>
<text class="lg" x="2091" y="431" textLength="180">Reservoir</text>
<text class="lg" x="2090" y="487" textLength="96">Tank</text>
<text class="lg" x="2093" y="546" textLength="101">Node</text>
<text class="lg" x="2093" y="592" textLength="83">Pipe</text>
<text class="lg" x="2095" y="642" textLength="108">Valve</text>
<text class="lg" x="2093" y="689" textLength="110">Pump</text>
<text class="lg" x="2097" y="749" textLength="575">Programmable logic controller</text>
</g>
</svg>
